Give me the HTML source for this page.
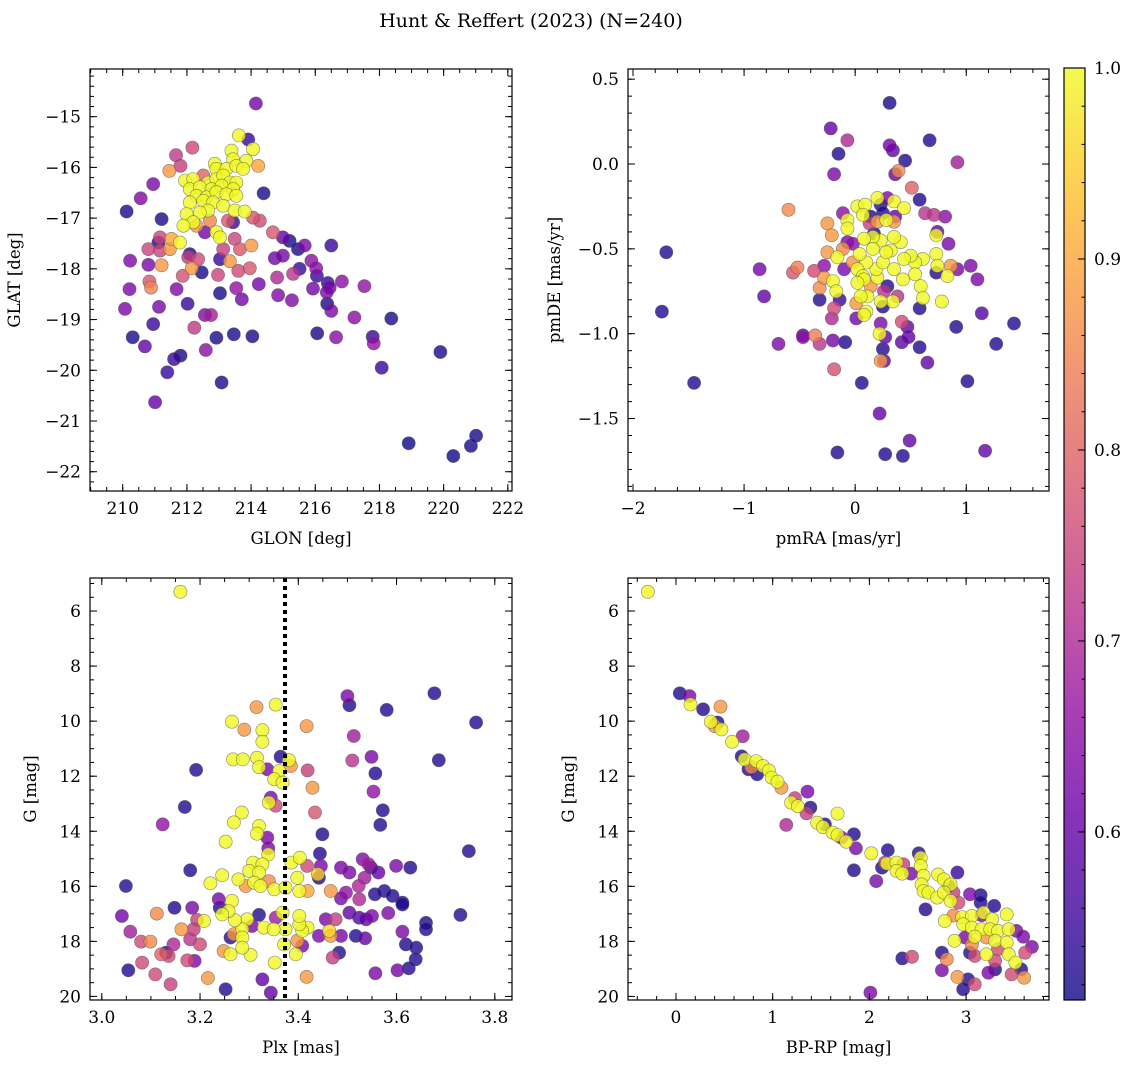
<!DOCTYPE html>
<html><head><meta charset="utf-8"><style>
html,body{margin:0;padding:0;background:#fff;}
svg{display:block;font-family:"DejaVu Serif","Liberation Serif",serif;}
</style></head><body>
<svg id="fig" width="1136" height="1068" viewBox="0 0 1136 1068" xmlns="http://www.w3.org/2000/svg">
<defs>
<linearGradient id="plasmaGrad" x1="0" y1="1" x2="0" y2="0">
<stop offset="0" stop-color="#0d0887"/><stop offset="0.1" stop-color="#41049d"/><stop offset="0.2" stop-color="#6a00a8"/><stop offset="0.3" stop-color="#8f0da4"/><stop offset="0.4" stop-color="#b12a90"/><stop offset="0.5" stop-color="#cc4778"/><stop offset="0.6" stop-color="#e16462"/><stop offset="0.7" stop-color="#f2844b"/><stop offset="0.8" stop-color="#fca636"/><stop offset="0.9" stop-color="#fcce25"/><stop offset="1" stop-color="#f0f921"/>
</linearGradient>
</defs>
<text x="531" y="27" font-size="19" text-anchor="middle">Hunt &amp; Reffert (2023) (N=240)</text>
</svg>
<script>
// ---- Panel 1: GLON vs GLAT ----
const p1Glon=[214.15,213.62,213.91,212.17,211.66,211.8,211.45,214.06,213.39,214.22,213.44,213.85,212.87,212.92,213.23,213.54,213.75,211.94,212.2,212.51,212.66,212.92,213.13,213.34,213.54,212.09,212.4,212.77,213.08,213.44,212.3,212.61,212.92,213.23,213.54,212.09,212.51,212.82,213.13,212.66,211.99,212.4,213.49,213.8,212.2,211.89,212.92,213.03,211.78,211.52,210.95,210.56,210.12,211.21,214.39,213.44,214.06,214.27,213.28,212.72,212.3,212.56,214.68,214.99,215.2,215.46,215.67,216.5,213.49,214.01,213.13,213.65,211.16,211.11,210.8,211.16,211.47,212.09,212.35,212.04,210.23,210.8,211.21,212.15,212.46,213.03,213.34,213.6,213.96,214.74,214.99,215.51,215.88,216.03,215.31,216.05,210.83,210.88,211.87,212.97,214.81,214.24,216.39,216.45,216.83,217.53,215.93,210.21,211.68,213.54,213.03,214.84,215.27,213.71,216.36,216.37,216.5,210.07,211.13,212.02,212.56,212.75,210.95,212.23,210.31,210.69,212.92,213.46,214.04,216.06,216.65,217.22,218.37,217.79,217.82,212.59,211.6,211.8,211.39,213.08,211.01,218.07,219.9,218.91,220.3,220.85,221.01];
const p1Glat=[-14.74,-15.37,-15.45,-15.61,-15.76,-15.97,-16.07,-15.64,-15.67,-15.97,-15.84,-15.87,-15.93,-16.03,-16.03,-15.97,-16.03,-16.26,-16.23,-16.16,-16.3,-16.23,-16.16,-16.3,-16.3,-16.43,-16.39,-16.43,-16.36,-16.43,-16.56,-16.59,-16.49,-16.53,-16.56,-16.69,-16.66,-16.69,-16.76,-16.85,-16.92,-16.89,-16.85,-16.87,-17.08,-17.15,-17.28,-17.38,-17.48,-17.41,-16.33,-16.61,-16.87,-17.02,-16.51,-17.08,-16.99,-17.05,-17.05,-17.05,-17.15,-17.28,-17.28,-17.38,-17.45,-17.61,-17.54,-17.54,-17.41,-17.54,-17.61,-17.61,-17.38,-17.48,-17.61,-17.64,-17.61,-17.71,-17.81,-17.77,-17.84,-17.92,-17.93,-17.99,-18.07,-17.81,-17.85,-18.04,-17.99,-17.79,-17.74,-18.0,-17.84,-17.99,-18.1,-18.14,-18.25,-18.37,-18.14,-18.12,-18.17,-18.3,-18.28,-18.37,-18.25,-18.34,-18.39,-18.4,-18.4,-18.38,-18.48,-18.52,-18.62,-18.6,-18.46,-18.69,-18.83,-18.79,-18.75,-18.69,-18.91,-18.91,-19.09,-19.16,-19.35,-19.53,-19.36,-19.29,-19.33,-19.27,-19.35,-18.96,-18.98,-19.34,-19.47,-19.6,-19.78,-19.71,-20.04,-20.24,-20.63,-19.95,-19.64,-21.44,-21.69,-21.49,-21.29];
const p1Prob=[0.62,1.0,0.55,0.76,0.73,0.74,0.88,1.0,1.0,0.9,1.0,1.0,1.0,1.0,1.0,1.0,1.0,1.0,1.0,0.8,1.0,1.0,1.0,1.0,1.0,1.0,1.0,1.0,1.0,1.0,1.0,1.0,1.0,1.0,1.0,1.0,1.0,1.0,1.0,1.0,1.0,1.0,1.0,1.0,1.0,1.0,1.0,1.0,1.0,0.9,0.63,0.64,0.52,0.52,0.52,0.55,0.78,0.76,0.78,0.85,0.88,0.62,0.78,0.6,0.52,0.52,0.63,0.55,0.75,0.88,0.74,0.78,0.75,0.52,0.75,0.75,0.88,0.52,0.76,0.74,0.63,0.63,0.88,0.88,0.52,0.55,0.88,0.76,0.78,0.62,0.62,0.55,0.65,0.65,0.72,0.55,0.78,0.85,0.77,0.75,0.7,0.62,0.55,0.62,0.65,0.66,0.62,0.63,0.64,0.66,0.52,0.64,0.64,0.62,0.63,0.52,0.63,0.63,0.63,0.55,0.64,0.68,0.55,0.73,0.52,0.6,0.52,0.52,0.52,0.52,0.65,0.65,0.52,0.55,0.66,0.65,0.55,0.52,0.55,0.52,0.6,0.55,0.52,0.51,0.51,0.52,0.52];
const p1XTicks=[210,212,214,216,218,220,222];
const p1YTicks=[-15,-16,-17,-18,-19,-20,-21,-22];

// ---- Panel 2: pmRA vs pmDE ----
const p2PmRA=[0.31,-0.22,-0.07,-0.15,0.31,0.34,0.45,0.67,0.92,-0.19,0.36,0.39,0.51,0.58,-0.6,-1.7,-1.74,-1.45,-0.86,-0.82,-0.69,-0.47,-0.47,-0.36,-0.32,-0.19,-0.2,-0.09,-0.16,0.06,0.22,0.27,0.43,0.49,1.17,1.01,1.27,1.43,1.14,0.91,0.65,0.58,0.23,0.25,0.26,0.42,0.48,0.42,0.47,0.23,0.27,0.22,0.01,-0.21,-0.19,-0.32,-0.14,-0.32,-0.28,-0.37,-0.56,-0.52,-0.28,-0.25,-0.25,-0.21,-0.11,-0.2,-0.17,-0.16,-0.07,-0.07,0.02,0.09,0.2,0.35,0.44,0.23,0.29,0.36,0.25,0.07,0.14,0.2,0.28,0.35,0.63,0.71,0.81,0.74,0.73,0.84,0.73,0.74,0.86,0.92,1.04,1.1,0.73,0.83,0.78,0.61,0.54,0.54,0.59,0.61,0.58,0.5,0.44,0.41,0.35,0.32,0.35,0.43,0.38,0.34,0.29,0.26,0.23,0.25,0.2,0.19,0.25,0.28,0.23,0.16,0.08,0.16,0.1,0.04,0.02,0.07,0.08,0.02,-0.02,-0.1,-0.07,-0.02,0.14,0.11,0.05,0.01,0.1,0.08,-0.11,0.13,0.17];
const p2PmDE=[0.36,0.21,0.14,0.06,0.11,0.08,0.02,0.14,0.01,-0.06,-0.06,-0.04,-0.14,-0.21,-0.27,-0.52,-0.87,-1.29,-0.62,-0.78,-1.06,-1.01,-1.02,-1.01,-1.06,-1.21,-1.04,-1.05,-1.7,-1.29,-1.47,-1.71,-1.72,-1.63,-1.69,-1.28,-1.06,-0.94,-0.88,-0.96,-1.17,-1.08,-1.16,-1.09,-1.16,-1.05,-1.02,-0.93,-0.96,-0.94,-1.02,-1.0,-0.91,-0.91,-0.85,-0.8,-0.8,-0.73,-0.67,-0.63,-0.64,-0.61,-0.6,-0.52,-0.35,-0.42,-0.29,-0.69,-0.75,-0.55,-0.33,-0.38,-0.25,-0.24,-0.2,-0.22,-0.26,-0.24,-0.2,-0.31,-0.29,-0.3,-0.31,-0.34,-0.33,-0.34,-0.29,-0.3,-0.31,-0.4,-0.42,-0.47,-0.53,-0.6,-0.6,-0.62,-0.6,-0.68,-0.64,-0.66,-0.81,-0.56,-0.58,-0.65,-0.72,-0.79,-0.85,-0.54,-0.56,-0.46,-0.43,-0.51,-0.62,-0.68,-0.78,-0.81,-0.72,-0.75,-0.81,-0.84,-0.67,-0.62,-0.58,-0.52,-0.45,-0.43,-0.44,-0.5,-0.58,-0.53,-0.62,-0.66,-0.68,-0.7,-0.58,-0.62,-0.46,-0.47,-0.72,-0.78,-0.78,-0.82,-0.87,-0.89,-0.5,-0.35,-0.41];
const p2Prob=[0.52,0.6,0.7,0.53,0.62,0.6,0.53,0.53,0.68,0.63,0.6,0.86,0.8,0.53,0.86,0.53,0.53,0.53,0.62,0.6,0.63,0.6,0.65,0.84,0.72,0.77,0.62,0.53,0.53,0.53,0.6,0.53,0.53,0.6,0.6,0.53,0.53,0.53,0.58,0.53,0.6,0.53,0.88,0.53,0.6,0.6,0.6,0.76,0.6,0.63,0.6,1.0,0.62,0.7,0.76,0.53,0.55,0.86,0.88,0.76,0.78,0.84,0.65,0.88,0.88,0.88,0.65,1.0,1.0,1.0,1.0,1.0,1.0,1.0,1.0,1.0,1.0,0.53,0.63,0.6,0.53,1.0,0.53,0.88,1.0,0.88,0.72,0.72,0.65,0.6,1.0,0.63,1.0,1.0,0.88,0.63,0.63,0.63,0.53,1.0,1.0,1.0,1.0,1.0,1.0,1.0,0.53,1.0,1.0,1.0,1.0,1.0,1.0,1.0,0.72,1.0,0.53,0.72,1.0,0.53,1.0,1.0,1.0,1.0,1.0,1.0,1.0,1.0,1.0,1.0,1.0,1.0,1.0,1.0,0.88,0.63,0.63,0.65,0.88,1.0,1.0,0.88,1.0,1.0,0.86,0.74,0.53];
const p2XTicks=[-2,-1,0,1];
const p2YTicks=[0.5,0.0,-0.5,-1.0,-1.5];

// ---- Panel 3: Plx vs G ----
const p3Plx=[3.16,3.354,3.315,3.265,3.29,3.327,3.327,3.417,3.5,3.504,3.58,3.677,3.762,3.686,3.513,3.51,3.549,3.557,3.553,3.572,3.567,3.747,3.192,3.169,3.124,3.18,3.049,3.364,3.267,3.287,3.316,3.381,3.385,3.32,3.337,3.361,3.351,3.368,3.419,3.429,3.344,3.34,3.354,3.434,3.449,3.444,3.285,3.269,3.32,3.316,3.337,3.252,3.339,3.339,3.308,3.327,3.3,3.32,3.386,3.403,3.418,3.446,3.44,3.442,3.245,3.221,3.278,3.293,3.31,3.323,3.34,3.351,3.374,3.398,3.402,3.419,3.466,3.487,3.504,3.531,3.543,3.548,3.563,3.599,3.628,3.535,3.523,3.575,3.556,3.592,3.612,3.73,3.497,3.487,3.524,3.504,3.524,3.538,3.55,3.583,3.612,3.66,3.66,3.612,3.619,3.64,3.639,3.625,3.602,3.557,3.517,3.536,3.487,3.483,3.47,3.476,3.466,3.456,3.463,3.442,3.419,3.408,3.402,3.402,3.398,3.408,3.395,3.374,3.371,3.368,3.354,3.33,3.35,3.352,3.327,3.344,3.417,3.32,3.306,3.303,3.296,3.286,3.286,3.286,3.271,3.269,3.265,3.258,3.245,3.262,3.262,3.248,3.252,3.238,3.24,3.208,3.216,3.194,3.184,3.187,3.18,3.2,3.189,3.174,3.148,3.146,3.162,3.131,3.136,3.121,3.112,3.099,3.08,3.082,3.109,3.14,3.058,3.041,3.054];
const p3G=[5.3,9.4,9.49,10.02,10.31,10.33,10.75,10.18,9.09,9.42,9.59,8.99,10.05,11.42,10.54,11.43,11.3,11.9,12.56,13.24,13.77,14.72,11.77,13.12,13.75,15.42,15.99,11.29,11.39,11.39,11.33,11.42,11.63,11.67,11.75,11.81,12.11,12.23,11.79,12.42,12.78,12.96,13.07,13.32,14.11,14.81,13.32,13.68,13.81,14.09,14.23,14.38,14.62,14.84,15.14,15.2,15.44,15.5,15.14,14.96,15.26,15.26,15.56,15.69,15.6,15.89,15.75,15.99,15.87,15.99,15.81,16.11,16.05,15.69,16.17,16.17,16.17,15.32,15.5,15.02,15.2,15.32,15.5,15.26,15.32,15.69,15.99,16.17,16.29,16.35,16.59,17.04,16.23,16.44,16.47,16.96,17.14,17.2,17.08,16.97,16.66,17.33,17.56,17.65,18.11,18.23,18.65,18.98,19.05,19.16,17.8,17.89,17.8,18.41,18.59,17.2,17.8,17.2,17.62,17.8,17.5,17.62,17.38,17.08,17.98,18.16,18.47,17.56,18.11,16.96,17.14,17.5,17.56,18.77,19.38,19.86,19.29,17.04,17.44,18.49,17.2,17.56,17.86,18.23,17.23,17.74,16.53,16.9,17.02,17.86,18.47,18.35,19.74,16.47,16.78,17.26,19.33,17.22,16.78,17.56,17.92,18.11,18.71,18.69,16.78,18.11,17.56,18.41,18.53,18.47,16.99,18.01,18.01,18.77,19.2,19.56,17.65,17.08,19.05];
const p3Prob=[1.0,1.0,0.88,1.0,0.88,1.0,1.0,0.88,0.63,0.53,0.53,0.53,0.53,0.53,0.68,0.72,0.63,0.53,0.66,0.53,0.53,0.53,0.53,0.53,0.66,0.53,0.53,0.53,1.0,1.0,1.0,1.0,0.88,1.0,0.63,1.0,1.0,1.0,0.74,0.88,0.63,1.0,0.76,0.78,0.53,0.53,1.0,1.0,1.0,1.0,0.63,1.0,0.63,1.0,1.0,1.0,1.0,1.0,1.0,1.0,0.76,0.63,0.95,0.53,1.0,1.0,1.0,0.88,1.0,1.0,0.86,1.0,1.0,1.0,1.0,0.9,0.88,0.63,0.63,0.64,0.68,0.55,0.6,0.63,0.53,0.68,0.7,0.53,0.53,0.53,0.53,0.53,0.66,0.63,0.7,0.6,0.58,0.6,0.63,0.63,0.53,0.53,0.53,0.63,0.53,0.53,0.53,0.53,0.62,0.63,0.53,0.6,0.63,0.53,0.74,0.74,0.88,0.63,0.96,0.63,1.0,1.0,1.0,1.0,0.88,0.63,1.0,1.0,1.0,1.0,0.68,1.0,1.0,1.0,0.6,0.6,0.88,0.53,0.63,1.0,1.0,1.0,1.0,1.0,1.0,0.88,1.0,1.0,1.0,0.53,1.0,0.88,0.53,0.63,0.53,1.0,0.88,0.74,0.63,0.74,0.72,0.76,0.63,0.76,0.53,0.7,0.88,0.53,0.76,0.8,0.86,0.86,0.76,0.76,0.76,0.74,0.68,0.62,0.53];
const p3XTicks=[3.0,3.2,3.4,3.6,3.8];
const p3YTicks=[6,8,10,12,14,16,18,20];
const p3MeanPlx=[3.373];

// ---- Panel 4: BP-RP vs G ----
const p4BpRp=[-0.29,0.04,0.14,0.15,0.28,0.46,0.36,0.43,0.4,0.47,0.69,0.58,0.68,0.71,0.75,0.78,0.83,0.84,0.9,0.96,0.99,1.05,1.09,1.36,1.23,1.19,1.26,1.39,1.35,1.14,1.46,1.54,1.52,1.62,1.67,1.71,1.76,1.67,1.84,1.86,2.02,1.84,2.07,2.19,2.16,2.13,2.18,2.28,2.35,2.28,2.34,2.43,2.51,2.53,2.53,2.56,2.54,2.56,2.61,2.71,2.77,2.84,2.91,2.82,2.87,2.7,2.77,2.84,2.92,3.04,3.15,3.15,3.29,2.58,2.87,2.96,3.06,3.16,3.18,3.27,3.42,2.78,2.97,3.06,3.16,3.25,3.33,3.44,3.52,2.99,3.09,3.21,3.3,3.42,3.59,3.68,3.61,2.88,3.06,3.04,3.09,3.21,3.33,3.3,3.44,3.51,3.3,3.23,3.47,3.57,3.6,2.75,2.8,2.75,2.91,3.02,3.09,2.97,2.34,2.44,2.01];
const p4G=[5.3,8.99,9.09,9.39,9.57,9.47,10.02,10.05,10.18,10.3,10.55,10.75,11.28,11.39,11.75,11.67,11.45,11.93,11.63,11.79,12.05,12.2,12.42,12.56,12.8,12.96,13.09,13.14,13.35,13.77,13.69,13.75,13.85,14.05,14.14,14.23,14.38,13.36,14.11,14.62,14.8,15.42,15.81,14.69,15.14,15.32,15.17,15.14,15.2,15.44,15.54,15.54,14.8,14.96,15.26,15.62,15.93,16.17,16.23,15.57,15.75,15.93,15.5,15.99,16.23,16.41,16.23,16.53,16.59,16.29,16.32,16.59,16.71,16.84,17.06,17.12,17.08,17.05,16.96,17.2,17.02,17.26,17.38,17.5,17.56,17.56,17.62,17.56,17.62,17.86,17.83,17.86,17.98,18.04,17.83,18.2,18.41,17.98,18.11,18.41,18.53,18.47,18.29,18.71,18.47,18.77,19.02,19.14,19.2,19.02,19.32,18.41,18.65,19.05,19.29,19.38,19.56,19.74,18.62,18.56,19.86];
const p4Prob=[1.0,0.53,0.63,1.0,0.53,0.88,1.0,0.53,0.88,1.0,0.68,1.0,0.53,1.0,0.53,0.86,1.0,0.53,1.0,1.0,1.0,1.0,0.88,0.63,0.74,1.0,1.0,0.53,0.74,0.7,1.0,0.53,1.0,1.0,1.0,0.63,1.0,1.0,0.53,0.63,1.0,0.53,0.63,0.53,0.74,0.53,1.0,1.0,0.74,1.0,1.0,0.63,0.53,1.0,1.0,1.0,1.0,1.0,1.0,1.0,1.0,1.0,0.55,0.53,0.74,1.0,1.0,1.0,0.76,0.63,0.53,0.53,0.53,0.53,0.86,1.0,1.0,0.63,1.0,1.0,1.0,1.0,1.0,1.0,1.0,1.0,1.0,1.0,0.63,0.63,1.0,0.88,1.0,1.0,0.63,0.63,0.76,1.0,0.86,0.53,0.76,1.0,0.76,0.76,1.0,1.0,0.53,0.63,0.76,0.53,0.88,0.53,0.86,0.63,0.88,0.53,0.76,0.53,0.53,0.76,0.63];
const p4XTicks=[0,1,2,3];
const p4YTicks=[6,8,10,12,14,16,18,20];

// ---- Colorbar ----
const cbarTicks=[0.6,0.7,0.8,0.9,1.0];
const cbarRange=[0.512,1.0];

const NS='http://www.w3.org/2000/svg';
const svg=document.getElementById('fig');
const plasma=[[13,8,135],[65,4,157],[106,0,168],[143,13,164],[177,42,144],[204,71,120],[225,100,98],[242,132,75],[252,166,54],[252,206,37],[240,249,33]];
function cmap(v){
  let t=(v-cbarRange[0])/(cbarRange[1]-cbarRange[0]);
  t=Math.max(0,Math.min(1,t))*10;
  const i=Math.min(9,Math.floor(t)),f=t-i;
  const a=plasma[i],b=plasma[i+1];
  return 'rgb('+[0,1,2].map(k=>Math.round(a[k]+(b[k]-a[k])*f)).join(',')+')';
}
function mk(tag,attrs,parent){const e=document.createElementNS(NS,tag);for(const k in attrs)e.setAttribute(k,attrs[k]);(parent||svg).appendChild(e);return e;}
function fmt(v,d){const s=Math.abs(v).toFixed(d);return (v<0?'\u2212':'')+s;}

function panel(cfg){
  const g=mk('g',{});
  
  
  const L=cfg.left,T=cfg.top,W=cfg.w,H=cfg.h;
  const sx=v=>L+(v-cfg.x0)/(cfg.x1-cfg.x0)*W;
  const sy=v=>T+(v-cfg.y0)/(cfg.y1-cfg.y0)*H;
  const clip=mk('clipPath',{id:cfg.name+'-clip'},g);
  mk('rect',{x:L,y:T,width:W,height:H},clip);
  const pts=mk('g',{'clip-path':'url(#'+cfg.name+'-clip)'},g);
  
  
  const idx=cfg.xs.map((_,i)=>i).sort((a,b)=>cfg.cs[a]-cfg.cs[b]);
  idx.forEach(i=>{
    const c=mk('circle',{cx:sx(cfg.xs[i]).toFixed(1),cy:sy(cfg.ys[i]).toFixed(1),r:6.6,fill:cmap(cfg.cs[i]),'fill-opacity':0.8,stroke:'#555','stroke-opacity':0.7,'stroke-width':0.6},pts);
    
    
  });
  if(cfg.vline){
    const ln=mk('line',{x1:sx(cfg.vline[0]),x2:sx(cfg.vline[0]),y1:T,y2:T+H,stroke:'#000','stroke-width':4,'stroke-dasharray':'4 4'},g);
    
    
  }
  const tk=mk('g',{stroke:'#000','stroke-width':1},g);
  function xt(v,len){const x=sx(v);if(x<L-0.5||x>L+W+0.5)return;mk('line',{x1:x,x2:x,y1:T+H,y2:T+H-len},tk);mk('line',{x1:x,x2:x,y1:T,y2:T+len},tk);}
  function yt(v,len){const y=sy(v);if(y<T-0.5||y>T+H+0.5)return;mk('line',{x1:L,x2:L+len,y1:y,y2:y},tk);mk('line',{x1:L+W,x2:L+W-len,y1:y,y2:y},tk);}
  const xa=Math.min(cfg.x0,cfg.x1),xb=Math.max(cfg.x0,cfg.x1),ya=Math.min(cfg.y0,cfg.y1),yb=Math.max(cfg.y0,cfg.y1);
  for(let v=Math.ceil(xa/cfg.xm)*cfg.xm;v<=xb;v+=cfg.xm)xt(v,4);
  for(let v=Math.ceil(ya/cfg.ym)*cfg.ym;v<=yb;v+=cfg.ym)yt(v,4);
  cfg.xt.forEach(v=>{xt(v,7);const t=mk('text',{x:sx(v),y:T+H+23,'font-size':17,'text-anchor':'middle'},g);t.textContent=fmt(v,cfg.xd);});
  cfg.yt.forEach(v=>{yt(v,7);const t=mk('text',{x:L-9,y:sy(v)+6,'font-size':17,'text-anchor':'end'},g);t.textContent=fmt(v,cfg.yd);});
  mk('rect',{x:L,y:T,width:W,height:H,fill:'none',stroke:'#000','stroke-width':1.2},g);
  const xl=mk('text',{x:L+W/2,y:T+H+53,'font-size':16.5,'text-anchor':'middle'},g);
  xl.textContent=cfg.xlabel;
  
  
  const yl=mk('text',{x:0,y:0,'font-size':16.5,'text-anchor':'middle',transform:'translate('+(L-cfg.ylOff)+','+(T+H/2)+') rotate(-90)'},g);
  yl.textContent=cfg.ylabel;
  
  
}

panel({name:'glon-glat-panel',left:90,top:69,w:422,h:422,x0:208.98,x1:222.13,y0:-14.06,y1:-22.38,xs:p1Glon,ys:p1Glat,cs:p1Prob,xt:p1XTicks,yt:p1YTicks,xm:0.5,ym:0.2,xd:0,yd:0,xlabel:'GLON [deg]',ylabel:'GLAT [deg]',ylOff:70});
panel({name:'proper-motion-panel',left:628,top:69,w:421,h:422,x0:-2.045,x1:1.745,y0:0.56,y1:-1.927,xs:p2PmRA,ys:p2PmDE,cs:p2Prob,xt:p2XTicks,yt:p2YTicks,xm:0.2,ym:0.1,xd:0,yd:1,xlabel:'pmRA [mas/yr]',ylabel:'pmDE [mas/yr]',ylOff:68});
panel({name:'parallax-panel',left:90,top:578,w:422,h:422,x0:2.976,x1:3.835,y0:4.8,y1:20.13,xs:p3Plx,ys:p3G,cs:p3Prob,xt:p3XTicks,yt:p3YTicks,xm:0.05,ym:0.5,xd:1,yd:0,xlabel:'Plx [mas]',ylabel:'G [mag]',ylOff:54,vline:p3MeanPlx});
panel({name:'cmd-panel',left:628,top:578,w:421,h:422,x0:-0.496,x1:3.857,y0:4.8,y1:20.13,xs:p4BpRp,ys:p4G,cs:p4Prob,xt:p4XTicks,yt:p4YTicks,xm:0.2,ym:0.5,xd:0,yd:0,xlabel:'BP-RP [mag]',ylabel:'G [mag]',ylOff:54});

const cb=mk('g',{});


const CL=1064,CT=68,CW=21,CH=932;
const cy=v=>CT+CH-(v-cbarRange[0])/(cbarRange[1]-cbarRange[0])*CH;
mk('rect',{x:CL,y:CT,width:CW,height:CH,fill:'url(#plasmaGrad)','fill-opacity':0.8},cb);
for(let v=0.52;v<=1.0001;v+=0.02){mk('line',{x1:CL+CW,x2:CL+CW-3.5,y1:cy(v),y2:cy(v),stroke:'#000','stroke-width':1},cb);}
cbarTicks.forEach(v=>{
  mk('line',{x1:CL+CW,x2:CL+CW-7,y1:cy(v),y2:cy(v),stroke:'#000','stroke-width':1},cb);
  const t=mk('text',{x:CL+CW+9,y:cy(v)+6,'font-size':17},cb);
  t.textContent=v.toFixed(1);
  
  
});
mk('rect',{x:CL,y:CT,width:CW,height:CH,fill:'none',stroke:'#000','stroke-width':1.2},cb);
</script>
</body></html>
